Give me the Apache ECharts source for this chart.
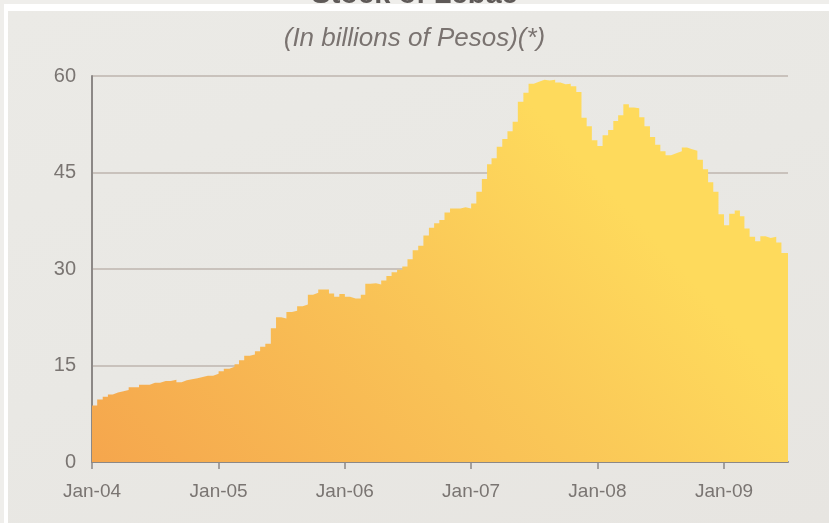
<!DOCTYPE html>
<html>
<head>
<meta charset="utf-8">
<script src="https://cdn.jsdelivr.net/npm/echarts@6/dist/echarts.min.js"></script>
<style>
  html, body { margin:0; padding:0; width:829px; height:523px; overflow:hidden; background:#EFEEEB; }
  #frame { position:absolute; left:8px; top:11px; width:821px; height:512px;
           background:linear-gradient(160deg, #EBEAE6 0%, #E9E8E4 50%, #E7E5E1 100%); }
  #chart { position:absolute; left:0; top:0; width:829px; height:523px; z-index:1; }
  #bandTop { position:absolute; left:4px; top:4px; width:825px; height:7px; background:#FFFFFF; z-index:2; }
  #bandLeft { position:absolute; left:4px; top:4px; width:4px; height:519px; background:#FFFFFF; z-index:2; }
</style>
</head>
<body>
<div id="frame"></div>
<div id="chart"></div>
<div id="bandTop"></div>
<div id="bandLeft"></div>
<script>
// Semi-monthly observation dates
const dates = [
  '2004-01-01','2004-01-16','2004-02-01','2004-02-16','2004-03-01','2004-03-16','2004-04-01','2004-04-16','2004-05-01','2004-05-16','2004-06-01','2004-06-16',
  '2004-07-01','2004-07-16','2004-08-01','2004-08-16','2004-09-01','2004-09-16','2004-10-01','2004-10-16','2004-11-01','2004-11-16','2004-12-01','2004-12-16',
  '2005-01-01','2005-01-16','2005-02-01','2005-02-16','2005-03-01','2005-03-16','2005-04-01','2005-04-16','2005-05-01','2005-05-16','2005-06-01','2005-06-16',
  '2005-07-01','2005-07-16','2005-08-01','2005-08-16','2005-09-01','2005-09-16','2005-10-01','2005-10-16','2005-11-01','2005-11-16','2005-12-01','2005-12-16',
  '2006-01-01','2006-01-16','2006-02-01','2006-02-16','2006-03-01','2006-03-16','2006-04-01','2006-04-16','2006-05-01','2006-05-16','2006-06-01','2006-06-16',
  '2006-07-01','2006-07-16','2006-08-01','2006-08-16','2006-09-01','2006-09-16','2006-10-01','2006-10-16','2006-11-01','2006-11-16','2006-12-01','2006-12-16',
  '2007-01-01','2007-01-16','2007-02-01','2007-02-16','2007-03-01','2007-03-16','2007-04-01','2007-04-16','2007-05-01','2007-05-16','2007-06-01','2007-06-16',
  '2007-07-01','2007-07-16','2007-08-01','2007-08-16','2007-09-01','2007-09-16','2007-10-01','2007-10-16','2007-11-01','2007-11-16','2007-12-01','2007-12-16',
  '2008-01-01','2008-01-16','2008-02-01','2008-02-16','2008-03-01','2008-03-16','2008-04-01','2008-04-16','2008-05-01','2008-05-16','2008-06-01','2008-06-16',
  '2008-07-01','2008-07-16','2008-08-01','2008-08-16','2008-09-01','2008-09-16','2008-10-01','2008-10-16','2008-11-01','2008-11-16','2008-12-01','2008-12-16',
  '2009-01-01','2009-01-16','2009-02-01','2009-02-16','2009-03-01','2009-03-16','2009-04-01','2009-04-16','2009-05-01','2009-05-16','2009-06-01','2009-06-16',
  '2009-07-05'
];
// Stock of Lebac, billions of pesos
const stock = [
  8.8, 9.7, 10.15, 10.5, 10.8, 11.0, 11.2, 11.6, 11.6, 12.0, 12.0, 12.3,
  12.3, 12.6, 12.6, 12.8, 12.4, 12.7, 12.85, 13.0, 13.2, 13.4, 13.4, 13.7,
  14.1, 14.5, 14.8, 15.2, 15.8, 16.5, 16.7, 17.2, 17.9, 18.4, 20.8, 22.5,
  22.3, 23.3, 23.5, 24.2, 24.5, 26.0, 26.3, 26.8, 26.8, 26.2, 25.7, 26.1,
  25.7, 25.4, 25.4, 26.0, 27.7, 27.8, 27.6, 28.2, 28.9, 29.5, 29.9, 30.4,
  31.5, 32.9, 33.6, 35.2, 36.4, 37.1, 37.6, 38.8, 39.4, 39.4, 39.6, 39.4,
  40.2, 42.0, 44.0, 46.3, 47.2, 49.0, 50.2, 51.4, 52.9, 56.0, 57.4, 58.8,
  59.1, 59.4, 59.3, 59.4, 59.0, 58.7, 58.8, 58.4, 57.5, 53.5, 52.2, 50.0,
  49.1, 50.8, 51.6, 53.0, 53.9, 55.6, 55.1, 55.0, 53.6, 52.2, 50.5, 49.3,
  48.3, 47.7, 48.0, 48.3, 48.9, 48.6, 48.4, 47.0, 45.5, 43.5, 42.0, 38.5,
  36.8, 38.6, 39.1, 38.2, 36.3, 35.0, 34.3, 35.1, 34.8, 35.0, 34.1, 32.5,
  31.0
];
const xTickDates = ['2004-01-01','2005-01-01','2006-01-01','2007-01-01','2008-01-01','2009-01-01'];
const xTickLabels = ['Jan-04','Jan-05','Jan-06','Jan-07','Jan-08','Jan-09'];
const yTicks = [0, 15, 30, 45, 60];
const titleText = 'Stock of Lebac';
const subtitleText = '(In billions of Pesos)(*)';

function ts(s) { const p = s.split('-').map(Number); return Date.UTC(p[0], p[1]-1, p[2]); }
const xTickTs = xTickDates.map(ts);
const seriesData = dates.map((d, i) => [ts(d), stock[i]]);

const chart = echarts.init(document.getElementById('chart'), null, { renderer: 'canvas' });
const axisGray = '#8C8886';
const labelGray = '#7A7572';
chart.setOption({
  backgroundColor: 'transparent',
  animation: false,
  title: [
    { text: titleText, left: 'center', top: -25,
      textStyle: { fontFamily: 'Liberation Sans', fontWeight: 'bold', fontSize: 29, color: '#5E5957' } },
    { text: subtitleText, left: 'center', top: 21,
      textStyle: { fontFamily: 'Liberation Sans', fontStyle: 'italic', fontWeight: 'normal', fontSize: 26, color: '#7A7370' } }
  ],
  grid: { left: 92, right: 41, top: 76, bottom: 61, containLabel: false },
  xAxis: {
    type: 'value',
    min: ts(dates[0]),
    max: ts(dates[dates.length - 1]),
    axisLine: { show: true, lineStyle: { color: axisGray, width: 2 } },
    axisTick: { show: true, length: 7, lineStyle: { color: axisGray, width: 1.5 }, customValues: xTickTs },
    axisLabel: {
      customValues: xTickTs,
      margin: 20,
      fontFamily: 'Liberation Sans', fontSize: 19, color: labelGray,
      formatter: function (v) { const i = xTickTs.indexOf(v); return i >= 0 ? xTickLabels[i] : ''; }
    },
    splitLine: { show: false }
  },
  yAxis: {
    type: 'value',
    min: yTicks[0], max: yTicks[yTicks.length - 1], interval: 15,
    axisLine: { show: true, lineStyle: { color: axisGray, width: 2 } },
    axisTick: { show: false },
    axisLabel: { margin: 16, fontFamily: 'Liberation Sans', fontSize: 20, color: labelGray },
    splitLine: { show: true, lineStyle: { color: '#C9C2BC', width: 2 } }
  },
  series: [{
    type: 'line',
    step: 'end',
    data: seriesData,
    showSymbol: false,
    symbol: 'none',
    lineStyle: { width: 0, opacity: 0 },
    areaStyle: {
      opacity: 1,
      color: new echarts.graphic.LinearGradient(0, 1, 0.6, 0, [
        { offset: 0, color: '#F5A64D' },
        { offset: 0.55, color: '#F9C256' },
        { offset: 1, color: '#FEDA5C' }
      ])
    },
    z: 1
  }]
});
</script>
</body>
</html>
